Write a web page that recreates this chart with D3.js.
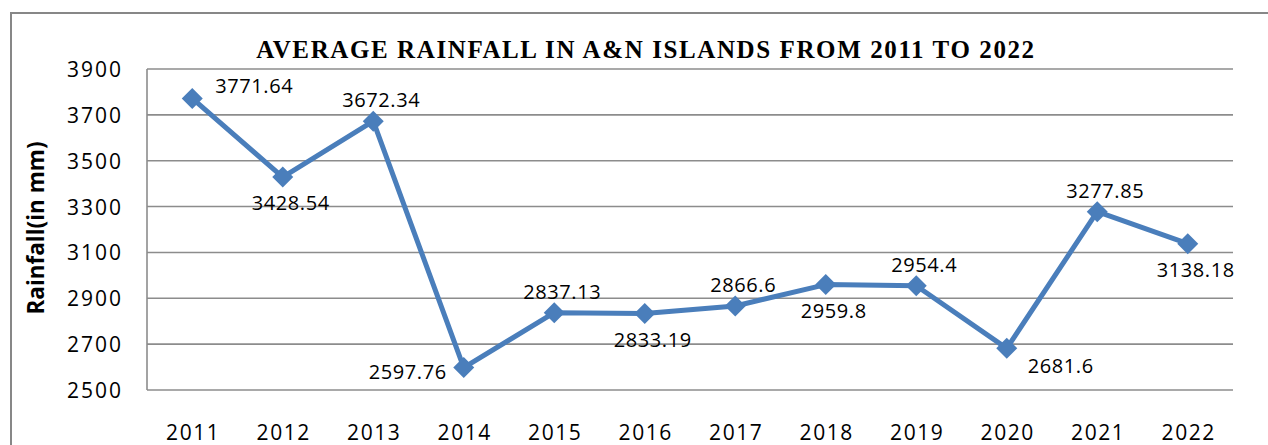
<!DOCTYPE html>
<html>
<head>
<meta charset="utf-8">
<script src="https://cdn.jsdelivr.net/npm/d3@7"></script>
<style>
  body { margin: 0; background: #fff; }
  svg { display: block; }
</style>
</head>
<body>
<div id="root"></div>
<script>
// chart data
const years = ['2011', '2012', '2013', '2014', '2015', '2016', '2017', '2018', '2019', '2020', '2021', '2022'];
const rainfall = [3771.64, 3428.54, 3672.34, 2597.76, 2837.13, 2833.19, 2866.6, 2959.8, 2954.4, 2681.6, 3277.85, 3138.18];
const yTicks = [2500, 2700, 2900, 3100, 3300, 3500, 3700, 3900];
// where excel put each data label
const labelSide = ['right', 'below', 'above', 'left', 'above', 'below', 'above', 'below', 'above', 'belowright', 'above', 'below'];

const width = 1268, height = 445;
const plot = { left: 147, top: 69, right: 1233, bottom: 390 };
const numFont = "'Open Sans', sans-serif";

const svg = d3.select('#root').append('svg')
  .attr('width', width)
  .attr('height', height);

// outer chart border (runs off the picture on the right and bottom)
svg.append('rect')
  .attr('x', 11).attr('y', 13)
  .attr('width', width + 20).attr('height', height + 20)
  .attr('fill', 'none')
  .attr('stroke', '#878787')
  .attr('stroke-width', 2);

const x = d3.scaleBand().domain(years).range([plot.left, plot.right]);
const y = d3.scaleLinear().domain([2500, 3900]).range([plot.bottom, plot.top]);

// gridlines
svg.append('g')
  .selectAll('line')
  .data(yTicks)
  .join('line')
  .attr('x1', plot.left).attr('x2', plot.right)
  .attr('y1', (d) => y(d)).attr('y2', (d) => y(d))
  .attr('stroke', '#8c8c8c')
  .attr('stroke-width', 1.6);

// left axis line
svg.append('line')
  .attr('x1', plot.left).attr('x2', plot.left)
  .attr('y1', plot.top).attr('y2', plot.bottom)
  .attr('stroke', '#8c8c8c')
  .attr('stroke-width', 1.6);

// y tick labels
svg.append('g')
  .selectAll('text')
  .data(yTicks)
  .join('text')
  .attr('x', 123)
  .attr('y', (d) => y(d) + 8)
  .attr('text-anchor', 'end')
  .style('font-family', numFont)
  .style('font-size', '21px')
  .style('letter-spacing', '2px')
  .attr('fill', '#000')
  .text((d) => d);

// x tick labels
svg.append('g')
  .selectAll('text')
  .data(years)
  .join('text')
  .attr('x', (d) => x(d) + x.bandwidth() / 2 + 1)
  .attr('y', 440)
  .attr('text-anchor', 'middle')
  .style('font-family', numFont)
  .style('font-size', '21px')
  .style('letter-spacing', '1.6px')
  .attr('fill', '#000')
  .text((d) => d);

// title
svg.append('text')
  .attr('x', 646)
  .attr('y', 58)
  .attr('text-anchor', 'middle')
  .style('font-family', "'Liberation Serif', serif")
  .style('font-weight', 'bold')
  .style('font-size', '25px')
  .style('letter-spacing', '1.6px')
  .text('AVERAGE RAINFALL IN A&N ISLANDS FROM 2011 TO 2022');

// y axis title
svg.append('text')
  .attr('transform', 'translate(44, 228) rotate(-90)')
  .attr('text-anchor', 'middle')
  .style('font-family', numFont)
  .style('font-weight', 'bold')
  .style('font-size', '22.5px')
  .text('Rainfall(in mm)');

const points = years.map((yr, i) => ({ year: yr, value: rainfall[i], side: labelSide[i] }));
const cx = (d) => x(d.year) + x.bandwidth() / 2;

// series line
svg.append('path')
  .datum(points)
  .attr('fill', 'none')
  .attr('stroke', '#4a7ebb')
  .attr('stroke-width', 5)
  .attr('stroke-linejoin', 'round')
  .attr('d', d3.line().x(cx).y((d) => y(d.value)));

// diamond markers
svg.append('g')
  .selectAll('path')
  .data(points)
  .join('path')
  .attr('transform', (d) => `translate(${cx(d)}, ${y(d.value)})`)
  .attr('d', 'M0,-10.5L10.5,0L0,10.5L-10.5,0Z')
  .attr('fill', '#4a7ebb');

// data labels
const offsets = {
  right: { dx: 62, dy: -12 },
  below: { dx: 8, dy: 26 },
  above: { dx: 8, dy: -21 },
  left: { dx: -56, dy: 4 },
  belowright: { dx: 54, dy: 18 }
};
svg.append('g')
  .selectAll('text')
  .data(points)
  .join('text')
  .attr('x', (d) => cx(d) + offsets[d.side].dx)
  .attr('y', (d) => y(d.value) + offsets[d.side].dy + 7)
  .attr('text-anchor', 'middle')
  .style('font-family', numFont)
  .style('font-size', '20px')
  .style('letter-spacing', '0.6px')
  .attr('fill', '#000')
  .text((d) => d.value);
</script>
</body>
</html>
